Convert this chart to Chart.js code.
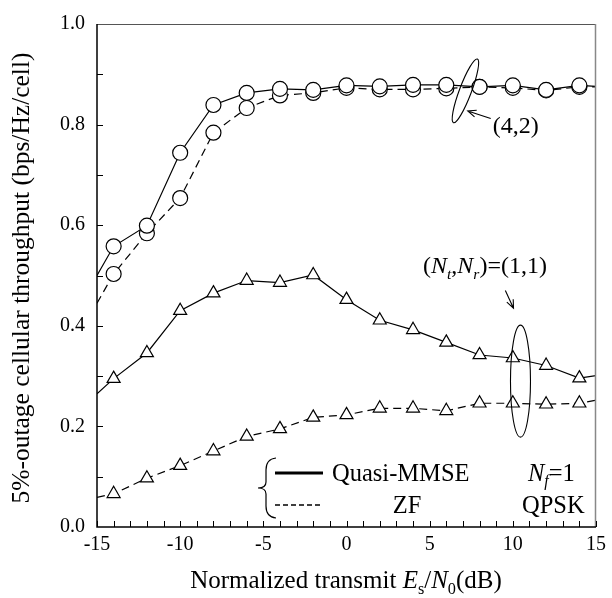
<!DOCTYPE html>
<html>
<head>
<meta charset="utf-8">
<script src="https://cdn.jsdelivr.net/npm/chart.js@4.4.1/dist/chart.umd.min.js"></script>
<style>
  html, body { margin: 0; padding: 0; background: #ffffff; }
  canvas { display: block; }
</style>
</head>
<body>
<canvas id="throughputChart" width="612" height="598"></canvas>
<script>
// Dados (Es/N0 em dB)
const snrDb = [-15, -14, -12, -10, -8, -6, -4, -2, 0, 2, 4, 6, 8, 10, 12, 14, 15];

// (Nt,Nr) = (4,2)
const mmse42 = [0.500, 0.558, 0.599, 0.744, 0.839, 0.863, 0.871, 0.869, 0.878, 0.876, 0.879, 0.879, 0.875, 0.878, 0.869, 0.878, 0.876];
const zf42   = [0.445, 0.503, 0.584, 0.654, 0.784, 0.833, 0.858, 0.863, 0.873, 0.870, 0.870, 0.872, 0.875, 0.873, 0.868, 0.875, 0.875];

// (Nt,Nr) = (1,1)
const mmse11 = [0.265, 0.295, 0.346, 0.430, 0.465, 0.490, 0.486, 0.501, 0.452, 0.411, 0.392, 0.367, 0.342, 0.336, 0.321, 0.296, 0.301];
const zf11   = [0.059, 0.066, 0.097, 0.122, 0.151, 0.180, 0.195, 0.218, 0.223, 0.236, 0.236, 0.231, 0.246, 0.246, 0.244, 0.246, 0.252];

// Rótulos dos eixos
const xTickValues = [-15, -10, -5, 0, 5, 10, 15];
const yTickValues = [0.0, 0.2, 0.4, 0.6, 0.8, 1.0];

const SERIF = '"Liberation Serif", "Times New Roman", serif';

function toPoints(values) {
    return snrDb.map(function(x, i) { return { x: x, y: values[i] }; });
}

// sem marcador nas pontas (a curva só encosta no eixo)
const markerRadius = snrDb.map(function(x) { return (x === -15 || x === 15) ? 0 : 7.5; });

function makeDataset(label, values, style, dashed) {
    return {
        label: label,
        data: toPoints(values),
        borderColor: '#000000',
        borderWidth: 1.2,
        borderDash: dashed ? [8, 5] : [],
        backgroundColor: '#ffffff',
        pointStyle: style,
        pointRadius: markerRadius,
        pointBackgroundColor: '#ffffff',
        pointBorderColor: '#000000',
        pointBorderWidth: 1.2,
        tension: 0,
        fill: false
    };
}

// Texto com itálico / subscrito
function drawRich(ctx, x, y, parts, size, measureOnly) {
    let cx = x;
    parts.forEach(function(p) {
        const s = p.sub ? size * 0.65 : size;
        ctx.font = (p.italic ? 'italic ' : '') + s + 'px ' + SERIF;
        if (!measureOnly) {
            ctx.fillText(p.t, cx, y + (p.sub ? size * 0.22 : 0));
        }
        cx += ctx.measureText(p.t).width;
    });
    return cx - x;
}

function drawArrow(ctx, x1, y1, x2, y2) {
    const ang = Math.atan2(y2 - y1, x2 - x1);
    const len = 9;
    ctx.beginPath();
    ctx.moveTo(x1, y1);
    ctx.lineTo(x2, y2);
    ctx.moveTo(x2 - len * Math.cos(ang - 0.4), y2 - len * Math.sin(ang - 0.4));
    ctx.lineTo(x2, y2);
    ctx.lineTo(x2 - len * Math.cos(ang + 0.4), y2 - len * Math.sin(ang + 0.4));
    ctx.stroke();
}

const decorPlugin = {
    id: 'decor',
    afterDraw: function(chart) {
        const ctx = chart.ctx;
        const a = chart.chartArea;
        const xs = chart.scales.x;
        const ys = chart.scales.y;
        const px = function(x, y) { return [xs.getPixelForValue(x), ys.getPixelForValue(y)]; };

        ctx.save();
        ctx.strokeStyle = '#000000';
        ctx.fillStyle = '#000000';
        ctx.setLineDash([]);

        // moldura
        ctx.lineWidth = 1;
        ctx.strokeStyle = '#555555';
        ctx.beginPath();
        ctx.moveTo(a.left, a.top + 0.5);
        ctx.lineTo(a.right - 0.5, a.top + 0.5);
        ctx.stroke();
        ctx.strokeStyle = '#888888';
        ctx.lineWidth = 1.5;
        ctx.beginPath();
        ctx.moveTo(a.right - 0.5, a.top);
        ctx.lineTo(a.right - 0.5, a.bottom);
        ctx.stroke();
        ctx.strokeStyle = '#000000';
        ctx.lineWidth = 1.5;
        ctx.beginPath();
        ctx.moveTo(a.left, a.top);
        ctx.lineTo(a.left, a.bottom);
        ctx.lineTo(a.right, a.bottom);
        ctx.stroke();

        // marcas internas
        ctx.lineWidth = 1;
        ctx.beginPath();
        for (let v = -15; v <= 15; v++) {
            const x = Math.round(xs.getPixelForValue(v)) + 0.5;
            ctx.moveTo(x, a.bottom);
            ctx.lineTo(x, a.bottom - 6);
        }
        for (let k = 1; k < 10; k++) {
            const y = Math.round(ys.getPixelForValue(k / 10)) + 0.5;
            ctx.moveTo(a.left, y);
            ctx.lineTo(a.left + 6, y);
        }
        ctx.stroke();

        // elipses e setas
        ctx.lineWidth = 1.1;
        let p = px(7.15, 0.867);
        ctx.beginPath();
        ctx.ellipse(p[0], p[1], 6, 34, 0.36, 0, Math.PI * 2);
        ctx.stroke();
        p = px(10.46, 0.290);
        ctx.beginPath();
        ctx.ellipse(p[0], p[1], 10, 56, 0, 0, Math.PI * 2);
        ctx.stroke();

        let t = px(8.67, 0.812), h = px(7.29, 0.827);
        drawArrow(ctx, t[0], t[1], h[0], h[1]);
        t = px(9.55, 0.470); h = px(10.04, 0.435);
        drawArrow(ctx, t[0], t[1], h[0], h[1]);

        // textos das curvas
        ctx.textAlign = 'left';
        ctx.textBaseline = 'alphabetic';
        p = px(8.79, 0.784);
        drawRich(ctx, p[0], p[1], [{ t: '(4,2)' }], 24);
        p = px(4.60, 0.504);
        drawRich(ctx, p[0], p[1], [
            { t: '(' }, { t: 'N', italic: true }, { t: 't', italic: true, sub: true },
            { t: ',' }, { t: 'N', italic: true }, { t: 'r', italic: true, sub: true },
            { t: ')=(1,1)' }
        ], 24);

        // legenda
        ctx.lineWidth = 1.2;
        ctx.beginPath();
        ctx.moveTo(276, 458);
        ctx.quadraticCurveTo(266, 459, 266, 470);
        ctx.lineTo(266, 482);
        ctx.quadraticCurveTo(266, 488, 258, 488);
        ctx.quadraticCurveTo(266, 488, 266, 494);
        ctx.lineTo(266, 506);
        ctx.quadraticCurveTo(266, 517, 276, 518);
        ctx.stroke();

        ctx.lineWidth = 3;
        ctx.beginPath();
        ctx.moveTo(275, 473);
        ctx.lineTo(323, 473);
        ctx.stroke();
        ctx.lineWidth = 1.5;
        ctx.setLineDash([5, 3]);
        ctx.beginPath();
        ctx.moveTo(275, 505);
        ctx.lineTo(323, 505);
        ctx.stroke();
        ctx.setLineDash([]);

        drawRich(ctx, 332, 481, [{ t: 'Quasi-MMSE' }], 24.5);
        ctx.textAlign = 'center';
        drawRich(ctx, 407, 513, [{ t: 'ZF' }], 24.5);
        ctx.textAlign = 'left';
        drawRich(ctx, 528, 481, [{ t: 'N', italic: true }, { t: 'f', italic: true, sub: true }, { t: '=1' }], 24.5);
        drawRich(ctx, 522, 513, [{ t: 'QPSK' }], 24.5);

        // título do eixo x
        const xTitle = [
            { t: 'Normalized transmit ' }, { t: 'E', italic: true }, { t: 's', sub: true },
            { t: '/' }, { t: 'N', italic: true }, { t: '0', sub: true }, { t: '(dB)' }
        ];
        const w = drawRich(ctx, 0, 0, xTitle, 25, true);
        drawRich(ctx, 346 - w / 2, 588, xTitle, 25);

        // título do eixo y
        ctx.translate(22, 278);
        ctx.rotate(-Math.PI / 2);
        ctx.textAlign = 'center';
        ctx.textBaseline = 'middle';
        ctx.font = '25.5px ' + SERIF;
        ctx.fillText('5%-outage cellular throughput (bps/Hz/cell)', 0, 0);
        ctx.restore();
    }
};

document.addEventListener('DOMContentLoaded', function() {
    if (typeof Chart === 'undefined') {
        console.error('Chart.js não foi carregado!');
        return;
    }
    const ctx = document.getElementById('throughputChart');

    new Chart(ctx, {
        type: 'line',
        data: {
            datasets: [
                makeDataset('Quasi-MMSE (4,2)', mmse42, 'circle', false),
                makeDataset('ZF (4,2)', zf42, 'circle', true),
                makeDataset('Quasi-MMSE (1,1)', mmse11, 'triangle', false),
                makeDataset('ZF (1,1)', zf11, 'triangle', true)
            ]
        },
        options: {
            responsive: false,
            animation: false,
            layout: { padding: { left: 0, right: 13, top: 17, bottom: 0 } },
            plugins: {
                legend: { display: false },
                tooltip: { enabled: false }
            },
            scales: {
                x: {
                    type: 'linear',
                    min: -15,
                    max: 15,
                    afterBuildTicks: function(s) { s.ticks = xTickValues.map(function(v) { return { value: v }; }); },
                    afterFit: function(s) { s.height = 71; },
                    grid: { display: false, drawTicks: false },
                    border: { display: false },
                    ticks: {
                        color: '#000000',
                        padding: 6,
                        maxRotation: 0,
                        font: { family: SERIF, size: 20 },
                        callback: function(v) { return String(v); }
                    }
                },
                y: {
                    type: 'linear',
                    min: 0,
                    max: 1,
                    afterBuildTicks: function(s) { s.ticks = yTickValues.map(function(v) { return { value: v }; }); },
                    afterFit: function(s) { s.width = 97; },
                    grid: { display: false, drawTicks: false },
                    border: { display: false },
                    ticks: {
                        color: '#000000',
                        padding: 12,
                        font: { family: SERIF, size: 20 },
                        callback: function(v) { return Number(v).toFixed(1); }
                    }
                }
            }
        },
        plugins: [decorPlugin]
    });
});
</script>
</body>
</html>
